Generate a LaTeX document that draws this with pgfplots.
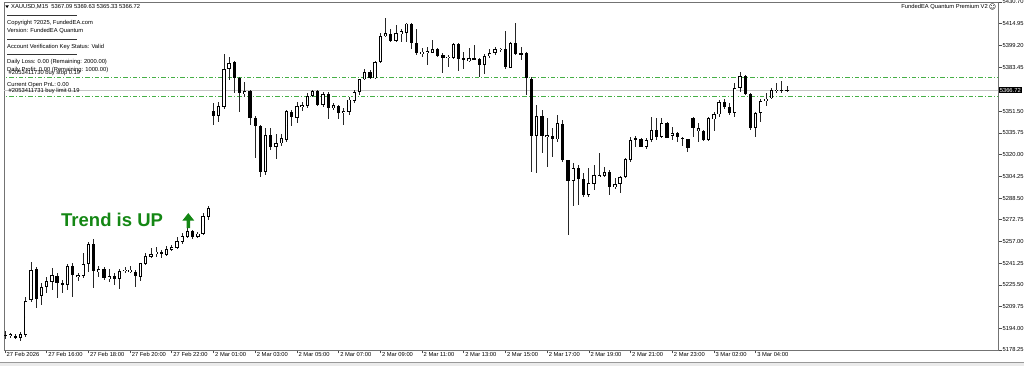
\documentclass[border=0pt]{standalone}
\usepackage{fontspec}
\setmainfont{Liberation Sans}
\newfontfamily\dejavu{DejaVu Sans}
\usepackage{pgfplots}
\usepackage{pgfplotstable}
\pgfplotsset{compat=1.18}
\definecolor{trend}{RGB}{20,135,20}
\definecolor{ordln}{RGB}{70,175,70}
\newcommand{\smallf}{\fontsize{5.8}{6.8}\selectfont}

\pgfplotstableread{
x o h l c
0 5189.2 5192.1 5186.2 5188.6
1 5189.2 5190.6 5186.9 5189.6
2 5188.6 5189.6 5186.0 5186.9
3 5186.9 5191.3 5184.8 5189.9
4 5189.2 5216.5 5187.9 5214.0
5 5214.5 5242.3 5213.1 5236.3
6 5236.8 5238.2 5208.7 5215.7
7 5217.6 5226.6 5210.9 5224.1
8 5224.1 5231.4 5219.4 5228.3
9 5227.8 5237.5 5221.8 5232.6
10 5231.9 5233.9 5215.7 5227.1
11 5227.1 5229.0 5219.4 5225.2
12 5225.4 5241.1 5221.8 5239.2
13 5239.2 5241.6 5216.9 5232.6
14 5232.1 5233.9 5228.3 5232.2
15 5232.1 5248.4 5230.3 5240.6
16 5240.4 5256.8 5235.1 5255.2
17 5254.9 5258.6 5223.5 5235.6
18 5234.6 5239.2 5231.4 5236.8
19 5236.8 5238.7 5229.0 5230.3
20 5229.5 5236.8 5227.8 5232.1
21 5232.1 5233.9 5225.4 5229.8
22 5229.8 5237.5 5223.0 5235.8
23 5236.2 5238.2 5233.9 5236.4
24 5235.8 5239.2 5234.3 5236.0
25 5235.1 5236.3 5223.7 5232.1
26 5231.4 5241.6 5228.5 5241.1
27 5240.6 5248.4 5239.9 5246.4
28 5245.9 5252.0 5244.8 5247.9
29 5248.8 5253.2 5245.9 5249.0
30 5249.6 5250.8 5244.8 5247.9
31 5247.2 5253.7 5246.4 5251.5
32 5250.8 5254.4 5250.3 5253.2
33 5252.4 5260.4 5251.7 5257.6
34 5256.8 5263.4 5255.2 5261.0
35 5260.4 5267.3 5259.3 5264.6
36 5264.6 5265.3 5258.6 5260.4
37 5260.4 5264.1 5259.3 5262.9
38 5262.4 5277.4 5261.7 5275.5
39 5275.0 5282.7 5272.6 5281.1
40 5351.9 5357.6 5341.5 5348.0
41 5348.0 5358.4 5343.9 5355.3
42 5354.8 5393.0 5352.9 5381.9
43 5381.9 5391.0 5374.1 5386.6
44 5387.4 5388.1 5364.5 5375.3
45 5375.8 5376.5 5351.1 5364.5
46 5364.0 5372.9 5362.0 5366.1
47 5366.1 5366.9 5341.5 5346.9
48 5346.9 5348.0 5317.3 5340.8
49 5340.8 5341.5 5304.0 5307.6
50 5307.6 5339.1 5305.2 5334.2
51 5334.2 5339.1 5323.3 5325.3
52 5325.3 5335.4 5317.3 5328.2
53 5328.2 5335.4 5326.2 5331.8
54 5330.6 5352.4 5329.4 5351.6
55 5350.7 5352.4 5340.8 5347.1
56 5346.3 5358.4 5343.2 5355.3
57 5355.5 5358.4 5351.9 5355.6
58 5355.3 5364.5 5353.6 5362.5
59 5362.5 5366.9 5362.0 5366.1
60 5366.1 5366.9 5355.3 5355.8
61 5356.0 5365.6 5354.8 5363.7
62 5363.7 5365.6 5345.6 5353.6
63 5353.6 5357.2 5352.4 5356.0
64 5355.5 5356.0 5345.6 5350.4
65 5351.1 5353.6 5341.5 5351.2
66 5351.2 5362.0 5348.7 5360.1
67 5359.1 5366.9 5357.2 5365.6
68 5365.2 5375.3 5363.2 5374.6
69 5374.6 5381.9 5374.1 5380.1
70 5380.1 5381.4 5374.6 5375.3
71 5375.3 5388.1 5374.6 5387.4
72 5387.4 5408.0 5386.2 5406.0
73 5406.0 5418.9 5405.1 5408.0
74 5407.5 5411.6 5401.9 5402.6
75 5402.6 5414.0 5401.9 5408.0
76 5407.3 5411.6 5401.9 5409.7
77 5408.7 5415.7 5401.9 5415.2
78 5414.7 5415.7 5396.4 5401.2
79 5401.2 5410.9 5392.3 5393.5
80 5393.5 5397.1 5391.0 5394.6
81 5394.6 5398.3 5385.0 5394.7
82 5394.1 5403.1 5393.5 5396.4
83 5396.4 5397.1 5391.0 5391.5
84 5392.0 5393.5 5379.0 5390.3
85 5390.6 5392.2 5383.8 5390.7
86 5389.9 5400.7 5389.1 5400.2
87 5400.2 5401.2 5380.9 5389.1
88 5389.9 5394.6 5381.9 5388.6
89 5387.9 5397.1 5387.4 5389.9
90 5390.3 5399.5 5388.6 5389.1
91 5389.1 5389.9 5376.1 5385.0
92 5385.0 5393.0 5378.5 5391.5
93 5391.5 5396.4 5389.9 5393.9
94 5393.5 5398.3 5392.3 5396.4
95 5396.3 5397.1 5394.6 5396.4
96 5396.4 5409.9 5382.6 5383.8
97 5383.0 5401.9 5382.6 5401.2
98 5401.2 5415.7 5392.3 5393.0
99 5393.5 5398.3 5388.6 5392.8
100 5393.5 5394.6 5363.2 5375.3
101 5375.3 5376.5 5307.6 5333.5
102 5333.5 5356.0 5306.9 5348.0
103 5348.0 5352.4 5321.0 5333.5
104 5333.0 5346.3 5311.2 5334.2
105 5333.5 5339.1 5318.5 5331.1
106 5331.1 5348.7 5329.4 5342.7
107 5342.2 5345.1 5314.9 5316.1
108 5316.1 5316.1 5261.7 5301.1
109 5301.1 5314.1 5282.7 5310.5
110 5310.5 5312.5 5283.4 5302.1
111 5302.1 5306.4 5289.5 5290.7
112 5290.7 5310.0 5289.5 5299.2
113 5298.7 5312.5 5294.3 5305.2
114 5304.6 5321.0 5304.0 5304.8
115 5304.7 5311.2 5304.0 5307.6
116 5307.6 5308.8 5290.7 5296.3
117 5296.3 5302.8 5294.8 5298.7
118 5298.7 5304.7 5291.9 5304.0
119 5304.0 5317.8 5302.8 5316.6
120 5316.1 5333.0 5314.9 5330.6
121 5331.8 5333.5 5325.5 5330.6
122 5331.1 5332.5 5325.3 5325.7
123 5325.3 5331.8 5323.9 5330.6
124 5330.6 5347.1 5329.4 5337.9
125 5337.9 5346.3 5330.6 5333.0
126 5333.0 5346.3 5331.8 5342.7
127 5342.7 5343.9 5331.8 5332.3
128 5333.5 5340.3 5330.6 5335.9
129 5335.9 5336.6 5329.4 5332.5
130 5332.5 5333.0 5326.2 5331.8
131 5331.1 5331.8 5322.1 5324.6
132 5346.3 5347.5 5333.0 5339.1
133 5337.1 5342.7 5329.4 5339.1
134 5337.1 5337.9 5330.1 5330.6
135 5330.6 5347.5 5330.1 5346.3
136 5345.6 5351.1 5337.3 5349.2
137 5349.2 5359.6 5347.5 5358.4
138 5358.4 5360.8 5353.6 5354.8
139 5354.8 5357.2 5348.7 5350.4
140 5350.4 5371.7 5347.1 5368.1
141 5368.1 5380.1 5365.6 5377.0
142 5377.0 5377.7 5363.2 5364.0
143 5364.0 5364.5 5337.9 5339.1
144 5339.1 5351.1 5333.0 5350.0
145 5350.0 5360.1 5343.9 5359.1
146 5359.1 5364.9 5355.3 5360.8
147 5360.8 5368.1 5360.1 5366.9
148 5366.8 5371.7 5364.5 5366.9
149 5366.9 5373.6 5364.5 5366.8
150 5367.09 5369.63 5365.33 5366.72
}\candles

\begin{document}
\begin{tikzpicture}
\useasboundingbox (0,0) rectangle (1024pt,366pt);
\begin{axis}[
  name=ax,
  at={(4pt,16pt)}, anchor=south west,
  scale only axis, width=994pt, height=348pt,
  xmin=-0.19, xmax=190.5, ymin=5178.25, ymax=5430.70,
  axis line style={draw=black!55, line width=0.8pt},
  tick align=outside,
  major tick length=3.5pt,
  xtick pos=bottom, ytick pos=right,
  xticklabel pos=bottom, yticklabel pos=right,
  xtick={0,8,...,144},
  xticklabels={27 Feb 2026,27 Feb 16:00,27 Feb 18:00,27 Feb 20:00,27 Feb 22:00,2 Mar 01:00,2 Mar 03:00,2 Mar 05:00,2 Mar 07:00,2 Mar 09:00,2 Mar 11:00,2 Mar 13:00,2 Mar 15:00,2 Mar 17:00,2 Mar 19:00,2 Mar 21:00,2 Mar 23:00,3 Mar 02:00,3 Mar 04:00},
  ytick={5178.25,5194.00,5209.75,5225.50,5241.25,5257.00,5272.75,5288.50,5304.25,5320.00,5335.75,5351.50,5383.45,5399.20,5414.95,5430.70},
  yticklabels={5178.25,5194.00,5209.75,5225.50,5241.25,5257.00,5272.75,5288.50,5304.25,5320.00,5335.75,5351.50,5383.45,5399.20,5414.95,5430.70},
  tick style={draw=black!70, line width=0.6pt},
  xticklabel style={font=\smallf, anchor=north west, inner sep=0pt, xshift=1.5pt, yshift=1pt},
  yticklabel style={font=\smallf, anchor=west, inner sep=0pt, xshift=1pt},
]
\addplot[gray!45, line width=0.7pt, forget plot] coordinates {(-1,5366.72) (191,5366.72)};
\addplot[ordln, line width=0.8pt, dash pattern=on 4.5pt off 2pt on 1pt off 2pt, forget plot] coordinates {(-1,5376.1) (191,5376.1)};
\addplot[ordln, line width=0.8pt, dash pattern=on 4.5pt off 2pt on 1pt off 2pt, forget plot] coordinates {(-1,5362.3) (191,5362.3)};
% wicks
\addplot[only marks, mark=*, mark size=0pt, mark options={draw=none, fill=none}, forget plot,
  error bars/.cd, y dir=both, y explicit, error mark=none,
  error bar style={line width=0.75pt, draw=black!85}]
  table[x=x, y expr={(\thisrow{h}+\thisrow{l})/2}, y error expr={(\thisrow{h}-\thisrow{l})/2}] {\candles};
% bodies
\addplot[only marks, mark=*, mark size=0pt, mark options={draw=none, fill=none}, forget plot,
  error bars/.cd, y dir=both, y explicit, error mark=none,
  error bar style={line width=3.3pt, draw=black}]
  table[x=x, y expr={(\thisrow{o}+\thisrow{c})/2}, y error expr={max(abs(\thisrow{o}-\thisrow{c})/2,0.35)}] {\candles};
% hollow interior of bullish bodies
\addplot[only marks, mark=*, mark size=0pt, mark options={draw=none, fill=none}, forget plot,
  restrict y to domain=5000:6000,
  error bars/.cd, y dir=both, y explicit, error mark=none,
  error bar style={line width=1.5pt, draw=white}]
  table[x=x, y expr={\thisrow{c}>\thisrow{o} ? (\thisrow{o}+\thisrow{c})/2 : 4000}, y error expr={max((\thisrow{c}-\thisrow{o})/2-0.65,0.08)}] {\candles};
\coordinate (pricept) at (axis cs:190.5,5366.72);
\end{axis}
% price label
\node[fill=black, text=white, anchor=west, inner xsep=1pt, inner ysep=1.2pt, font=\smallf] at ([xshift=0.6pt]pricept) {5366.72};
% overlay texts
\fill (5.3pt,360.6pt) -- (8.9pt,360.6pt) -- (7.1pt,357.9pt) -- cycle;
\begin{scope}[every node/.style={anchor=west, inner sep=0pt, font=\smallf}]
\node at (11pt,359.3pt) {XAUUSD,M15\ \ 5367.09 5369.63 5365.33 5366.72};
\node at (7pt,342.7pt) {Copyright ?2025, FundedEA.com};
\node at (7pt,334.7pt) {Version: FundedEA Quantum};
\node at (7pt,319.3pt) {Account Verification Key Status: Valid};
\node at (7pt,304pt) {Daily Loss: 0.00 (Remaining: 2000.00)};
\node at (7pt,296pt) {Daily Profit: 0.00 (Remaining: 1000.00)};
\node at (8.5pt,292.5pt) {\#2053411730 buy stop 0.19};
\node at (7pt,280.7pt) {Current Open PnL: 0.00};
\node at (8.5pt,274.7pt) {\#2053411731 buy limit 0.19};
\node[anchor=east] at (988pt,359pt) {FundedEA Quantum Premium V2};
\end{scope}
\draw[black!80, line width=0.5pt] (7pt,351pt) -- (77pt,351pt);
\draw[black!80, line width=0.5pt] (7pt,327pt) -- (77pt,327pt);
\draw[black!80, line width=0.5pt] (7pt,311.7pt) -- (77pt,311.7pt);
\node[inner sep=0pt, font=\dejavu\fontsize{7}{7}\selectfont] at (992.5pt,359.5pt) {☺};
% trend label
\node[anchor=base west, inner sep=0pt, text=trend, font=\fontsize{18.5}{20}\selectfont\bfseries] at (61pt,139pt) {Trend is UP};
\fill[trend] (182.3pt,145.3pt) -- (188.3pt,152.9pt) -- (194.3pt,145.3pt) -- (190.1pt,145.3pt) -- (190.1pt,137.8pt) -- (186.5pt,137.8pt) -- (186.5pt,145.3pt) -- cycle;
% bottom bar
\fill[black!8] (0,0) rectangle (1024pt,3.5pt);
\draw[black!40, line width=0.5pt] (0,3.5pt) -- (1024pt,3.5pt);
\end{tikzpicture}
\end{document}
